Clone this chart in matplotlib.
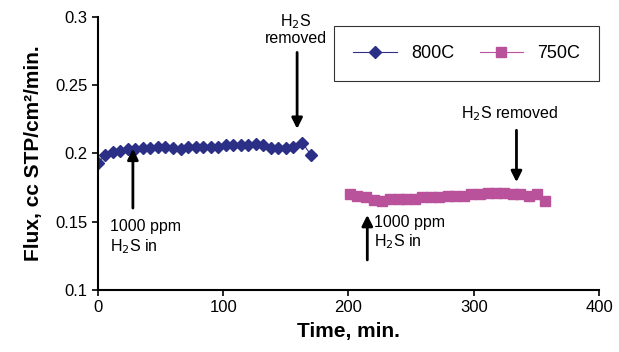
import matplotlib
matplotlib.use("Agg")
import matplotlib.pyplot as plt

plt.rcParams['font.family'] = ['Liberation Sans', 'DejaVu Sans']

# Dane: strumień przy 800C i 750C
time_800 = [0, 6, 12, 18, 24, 30, 36, 42, 48, 54, 60, 66, 72, 78, 84, 90, 96, 102,
            108, 114, 120, 126, 132, 138, 144, 150, 156, 163, 170]
flux_800 = [0.193, 0.199, 0.201, 0.202, 0.203, 0.203, 0.204, 0.204, 0.205, 0.205,
            0.204, 0.203, 0.205, 0.205, 0.205, 0.205, 0.205, 0.206, 0.206, 0.206,
            0.206, 0.207, 0.206, 0.204, 0.204, 0.204, 0.205, 0.208, 0.199]

time_750 = [201, 207, 214, 220, 227, 233, 240, 246, 253, 259, 266, 272, 279, 285,
            292, 298, 305, 311, 318, 324, 331, 337, 344, 350, 357]
flux_750 = [0.170, 0.169, 0.168, 0.166, 0.165, 0.167, 0.167, 0.167, 0.167, 0.168,
            0.168, 0.168, 0.169, 0.169, 0.169, 0.170, 0.170, 0.171, 0.171, 0.171,
            0.170, 0.170, 0.169, 0.170, 0.165]

x_ticks = [0, 100, 200, 300, 400]
y_ticks = [0.1, 0.15, 0.2, 0.25, 0.3]

fig = plt.figure(figsize=(6.19, 3.52), dpi=100)
ax = fig.add_axes([0.158, 0.176, 0.81, 0.776])

ax.plot(time_800, flux_800, color='#2b2f86', lw=0.8, marker='D', ms=6.5,
        mec='#2b2f86', mfc='#2b2f86', label='800C')
ax.plot(time_750, flux_750, color='#b9519b', lw=0.8, marker='s', ms=6.5,
        mec='#b9519b', mfc='#b9519b', label='750C')

ax.set_xlim(0, 400)
ax.set_ylim(0.1, 0.3)
ax.set_xticks(x_ticks)
ax.set_yticks(y_ticks)
ax.set_yticklabels(['0.1', '0.15', '0.2', '0.25', '0.3'])
ax.tick_params(labelsize=12, direction='out', length=4, width=1.2)
for s in ['top', 'right']:
    ax.spines[s].set_visible(False)
for s in ['left', 'bottom']:
    ax.spines[s].set_linewidth(1.5)

ax.set_xlabel('Time, min.', fontsize=15, fontweight='bold', labelpad=5)
ax.set_ylabel('Flux, cc STP/cm²/min.', fontsize=15, fontweight='bold',
              labelpad=9)

arrow = dict(arrowstyle='-|>', color='black', lw=2, mutation_scale=16)

# Adnotacje
ax.annotate('', xy=(28, 0.2055), xytext=(28, 0.158), arrowprops=arrow)
ax.text(10, 0.152, '1000 ppm\nH$_2$S in', fontsize=11.5, va='top', ha='left',
        linespacing=1.2)

ax.annotate('', xy=(159, 0.216), xytext=(159, 0.276), arrowprops=arrow)
ax.text(158, 0.279, 'H$_2$S\nremoved', fontsize=11.5, va='bottom', ha='center',
        linespacing=1.0)

ax.annotate('', xy=(215, 0.157), xytext=(215, 0.12), arrowprops=arrow)
ax.text(220, 0.155, '1000 ppm\nH$_2$S in', fontsize=11.5, va='top', ha='left',
        linespacing=1.2)

ax.annotate('', xy=(334, 0.177), xytext=(334, 0.219), arrowprops=arrow)
ax.text(329, 0.222, 'H$_2$S removed', fontsize=11.5, va='bottom', ha='center')

leg = ax.legend(loc='upper right', bbox_to_anchor=(1.0, 0.965), ncol=2,
                fontsize=13, frameon=True, fancybox=False, borderpad=1.05,
                handlelength=2.4, columnspacing=1.4, borderaxespad=0.0)
leg.get_frame().set_edgecolor('black')
leg.get_frame().set_linewidth(0.8)

fig.savefig('out.png', dpi=100)
